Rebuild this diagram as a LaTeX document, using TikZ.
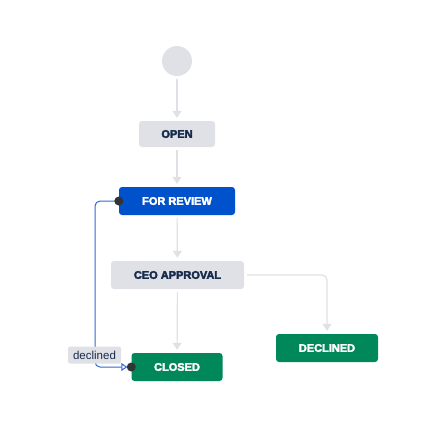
\documentclass[tikz,border=0pt]{standalone}
\usepackage{fontspec}
\setmainfont{Liberation Sans}
\usetikzlibrary{arrows.meta}
\definecolor{jgrey}{HTML}{DFE1E6}
\definecolor{jblue}{HTML}{0052CC}
\definecolor{jgreen}{HTML}{00875A}
\definecolor{jtext}{HTML}{172B4D}
\definecolor{jline}{RGB}{48,104,214}
\definecolor{jdot}{HTML}{333333}
\newcommand{\heavytxt}[1]{\special{pdf:literal direct 0.35 w 2 Tr}#1\special{pdf:literal direct 0 Tr}}
\tikzset{
  box/.style={rounded corners=3pt, inner sep=0pt, align=center, font=\fontsize{11}{13}\selectfont\bfseries},
  greybox/.style={box, fill=jgrey, text=jtext},
  bluebox/.style={box, fill=jblue, text=white},
  greenbox/.style={box, fill=jgreen, text=white},
  flow/.style={draw=jgrey, line width=1.2pt, -{Triangle[width=9pt,length=7pt]}, shorten <=3pt, shorten >=3pt},
  blueflow/.style={draw=jline, line width=1pt, rounded corners=5pt, -{Triangle[open,width=8pt,length=6pt]}, shorten >=4pt},
  enddot/.style={circle, fill=jdot, inner sep=0pt, minimum size=9pt},
  lab/.style={fill=jgrey, rounded corners=2pt, text=jtext, inner sep=0pt, minimum width=53pt, minimum height=17pt, font=\fontsize{11.5}{13}\selectfont}
}
\begin{document}
\begin{tikzpicture}[x=1pt,y=-1pt]
\useasboundingbox (0,0) rectangle (425,445);
\node[circle, fill=jgrey, minimum size=30pt, inner sep=0pt] (start) at (177,61) {};
\node[greybox, minimum width=76pt, minimum height=26pt] (open) at (177,134) {\heavytxt{OPEN}};
\node[bluebox, minimum width=116pt, minimum height=28pt] (fr) at (177,201) {\heavytxt{FOR REVIEW}};
\node[greybox, minimum width=133pt, minimum height=28pt] (ceo) at (177.5,275) {\heavytxt{CEO APPROVAL}};
\node[greenbox, minimum width=102pt, minimum height=28pt] (dec) at (327,348) {\heavytxt{DECLINED}};
\node[greenbox, minimum width=91pt, minimum height=28pt] (cl) at (177,367) {\heavytxt{CLOSED}};
\coordinate (lane) at (95,0);

\draw[flow] (start) -- (open);
\draw[flow] (open) -- (fr);
\draw[flow] (fr) -- (ceo);
\draw[flow] (ceo) -- (cl);
\draw[flow, rounded corners=5pt] (ceo.east) -| (dec.north);

\draw[blueflow] (fr.west) -| (lane |- cl.west) -- (cl.west);
\node[lab] (dl) at (94.5,355) {declined};
\node[enddot] (d1) at (fr.west) {};
\node[enddot] (d2) at (cl.west) {};
\end{tikzpicture}
\end{document}
